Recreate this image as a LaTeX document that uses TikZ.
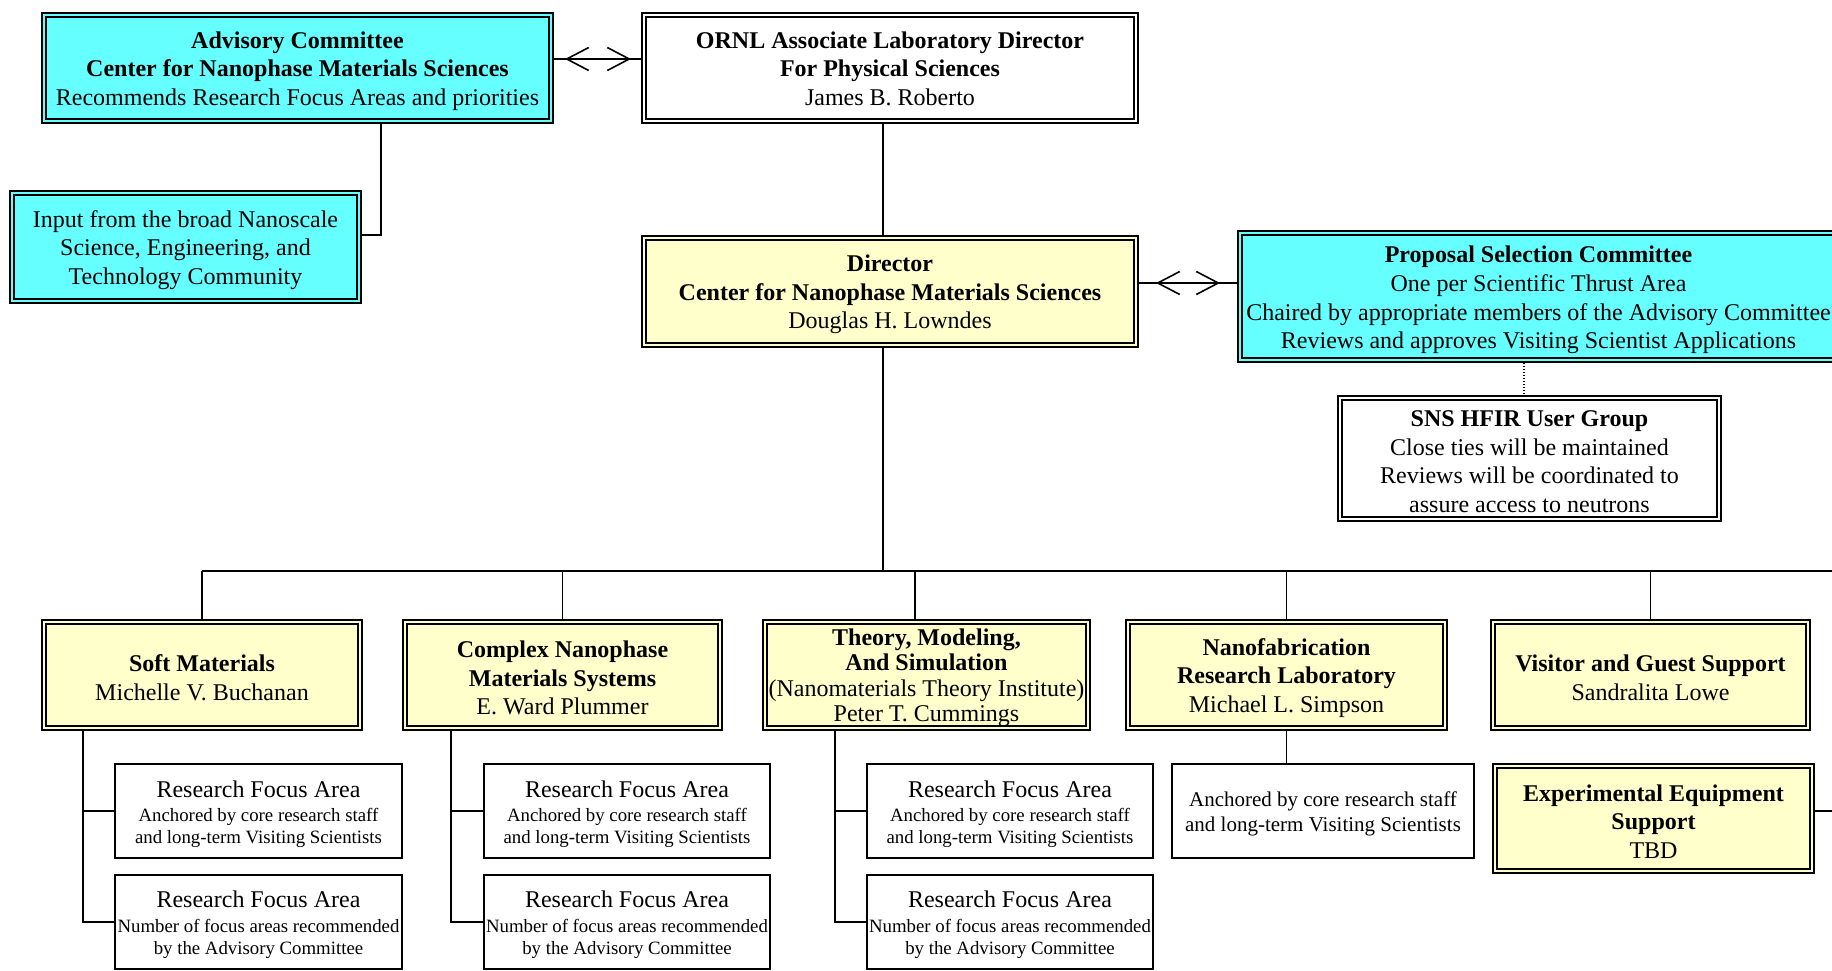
\documentclass[tikz,border=0pt]{standalone}
\usepackage{fontspec}
\setmainfont{Liberation Serif}
\usetikzlibrary{arrows.meta}
\definecolor{cyanfill}{HTML}{66FFFF}
\definecolor{yelfill}{HTML}{FFFFCC}
\newcommand\fsMain{\fontsize{24}{28.6}\selectfont}
\newcommand\fsTight{\fontsize{24}{25.5}\selectfont}
\newcommand\fsSmall{\fontsize{18.8}{22.3}\selectfont}
\newcommand\fsMid{\fontsize{21}{25}\selectfont}
\newcommand\tstrut{\rule{0pt}{22.6pt}}
\newcommand\dstrut{\rule[-5.3pt]{0pt}{1pt}}
\tikzset{
  tribox/.style={draw=black, line width=2.2pt, double distance=1.8pt, double=#1, fill=#1,
    inner sep=0pt, outer sep=3.1pt, align=center, font=\fsMain},
  sbox/.style={draw=black, line width=1.8pt, fill=white, inner sep=0pt, outer sep=0.9pt,
    align=center, font=\fsSmall},
  conn/.style={line width=1.6pt, draw=black},
  barbs/.style={line width=1.6pt, {Straight Barb[length=22pt,width=23pt,line width=1.6pt]}-{Straight Barb[length=22pt,width=23pt,line width=1.6pt]}},
}
\begin{document}
\begin{tikzpicture}[x=1pt,y=-1pt]
\clip (0,0) rectangle (1832,971);
\fill[white] (0,0) rectangle (1832,971);

% top row
\node[tribox=cyanfill, minimum width=506.8pt, minimum height=105.8pt] (adv) at (297.5,68)
  {\tstrut\textbf{Advisory Committee}\\ \textbf{Center for Nanophase Materials Sciences}\\ Recommends Research Focus Areas and priorities};
\node[tribox=white, minimum width=491.8pt, minimum height=105.8pt] (ornl) at (890,68)
  {\tstrut\textbf{ORNL Associate Laboratory Director}\\ \textbf{For Physical Sciences}\\ James B. Roberto\dstrut};
\node[tribox=cyanfill, minimum width=346.8pt, minimum height=107.8pt] (inp) at (185.5,247)
  {\tstrut Input from the broad Nanoscale\\ Science, Engineering, and\\ Technology Community};
\node[tribox=yelfill, minimum width=491.8pt, minimum height=106.8pt] (dir) at (890,291.5)
  {\tstrut\textbf{Director}\\ \textbf{Center for Nanophase Materials Sciences}\\ Douglas H. Lowndes};
\node[tribox=cyanfill, minimum width=606.8pt, minimum height=126.8pt] (prop) at (1543.5,296.5) {};
\node[align=center, font=\fsMain, inner sep=0pt] (propt) at (1538.5,297)
  {\tstrut\textbf{Proposal Selection Committee}\\ One per Scientific Thrust Area\\ Chaired by appropriate members of the Advisory Committee\\ Reviews and approves Visiting Scientist Applications};
\node[tribox=white, minimum width=378.8pt, minimum height=120.8pt] (sns) at (1529.5,458.5)
  {\tstrut\textbf{SNS HFIR User Group}\\ Close ties will be maintained\\ Reviews will be coordinated to\\ assure access to neutrons};

% second row
\node[tribox=yelfill, minimum width=315.8pt, minimum height=105.8pt] (soft) at (202,675)
  {\tstrut\textbf{Soft Materials}\\ Michelle V. Buchanan};
\node[tribox=yelfill, minimum width=314.8pt, minimum height=105.8pt] (cplx) at (562.5,675)
  {\tstrut\textbf{Complex Nanophase}\\ \textbf{Materials Systems}\\ E. Ward Plummer};
\node[tribox=yelfill, minimum width=322.8pt, minimum height=105.8pt, font=\fsTight] (theory) at (926.5,675)
  {\tstrut\textbf{Theory, Modeling,}\\ \textbf{And Simulation}\\ (Nanomaterials Theory Institute)\\ Peter T. Cummings};
\node[tribox=yelfill, minimum width=316.8pt, minimum height=105.8pt] (nano) at (1286.5,675)
  {\tstrut\textbf{Nanofabrication}\\ \textbf{Research Laboratory}\\ Michael L. Simpson};
\node[tribox=yelfill, minimum width=314.8pt, minimum height=105.8pt] (visit) at (1650.5,675)
  {\tstrut\textbf{Visitor and Guest Support}\\ Sandralita Lowe};
\node[tribox=yelfill, minimum width=316.8pt, minimum height=104.8pt] (exp) at (1653.5,818.5)
  {\tstrut\textbf{Experimental Equipment}\\ \textbf{Support}\\ TBD};

% research focus areas
\node[sbox, minimum width=287.2pt, minimum height=94.2pt] (r11) at (258.5,811)
  {{\fsMain\tstrut Research Focus Area}\\[1.5pt] Anchored by core research staff\\ and long-term Visiting Scientists};
\node[sbox, minimum width=287.2pt, minimum height=94.2pt] (r12) at (258.5,922)
  {{\fsMain\tstrut Research Focus Area}\\[2pt] Number of focus areas recommended\\ by the Advisory Committee};
\node[sbox, minimum width=286.2pt, minimum height=94.2pt] (r21) at (627,811)
  {{\fsMain\tstrut Research Focus Area}\\[1.5pt] Anchored by core research staff\\ and long-term Visiting Scientists};
\node[sbox, minimum width=286.2pt, minimum height=94.2pt] (r22) at (627,922)
  {{\fsMain\tstrut Research Focus Area}\\[2pt] Number of focus areas recommended\\ by the Advisory Committee};
\node[sbox, minimum width=286.2pt, minimum height=94.2pt] (r31) at (1010,811)
  {{\fsMain\tstrut Research Focus Area}\\[1.5pt] Anchored by core research staff\\ and long-term Visiting Scientists};
\node[sbox, minimum width=286.2pt, minimum height=94.2pt] (r32) at (1010,922)
  {{\fsMain\tstrut Research Focus Area}\\[2pt] Number of focus areas recommended\\ by the Advisory Committee};
\node[sbox, minimum width=302.2pt, minimum height=94.2pt, font=\fsMid] (nfa) at (1323,811)
  {\rule{0pt}{21.5pt}Anchored by core research staff\\ and long-term Visiting Scientists};

% helper coordinates
\coordinate (ya) at (0,59);
\coordinate (yb) at (0,283);
\coordinate (yc) at (0,235);
\coordinate (vA) at (381,0);
\coordinate (v0) at (883,0);
\coordinate (vT) at (915,0);
\coordinate (vP) at (1524,0);
\coordinate (bus) at (0,571);
\coordinate (busR) at (1845,571);
\coordinate (expR) at (1845,811);
\coordinate (t1) at (83,0);
\coordinate (t2) at (451,0);
\coordinate (t3) at (835,0);

% connectors
\draw[conn] (adv.east |- ya) -- (ornl.west |- ya);
\draw[barbs, shorten <=11pt, shorten >=10pt] (adv.east |- ya) -- (ornl.west |- ya);
\draw[conn] (dir.east |- yb) -- (prop.west |- yb);
\draw[barbs, shorten <=17pt, shorten >=17pt] (dir.east |- yb) -- (prop.west |- yb);
\draw[conn] (ornl.south -| v0) -- (dir.north -| v0);
\draw[conn] (adv.south -| vA) |- (inp.east |- yc);
\draw[line width=1.3pt, dash pattern=on 1.4pt off 1.6pt] (prop.south -| vP) -- (sns.north -| vP);
\draw[conn] (dir.south -| v0) -- (v0 |- bus);
\draw[conn] (soft.north |- bus) -- (busR);
\draw[conn] (soft.north) -- (soft.north |- bus);
\draw[conn] (cplx.north) -- (cplx.north |- bus);
\draw[conn] (theory.north -| vT) -- (vT |- bus);
\draw[conn] (nano.north) -- (nano.north |- bus);
\draw[conn] (visit.north) -- (visit.north |- bus);
\draw[conn] (exp.east |- expR) -- (expR);
\draw[conn] (soft.south -| t1) |- (r12.west);
\draw[conn] (t1 |- r11.west) -- (r11.west);
\draw[conn] (cplx.south -| t2) |- (r22.west);
\draw[conn] (t2 |- r21.west) -- (r21.west);
\draw[conn] (theory.south -| t3) |- (r32.west);
\draw[conn] (t3 |- r31.west) -- (r31.west);
\draw[conn] (nano.south) -- (nano.south |- nfa.north);
\end{tikzpicture}
\end{document}
